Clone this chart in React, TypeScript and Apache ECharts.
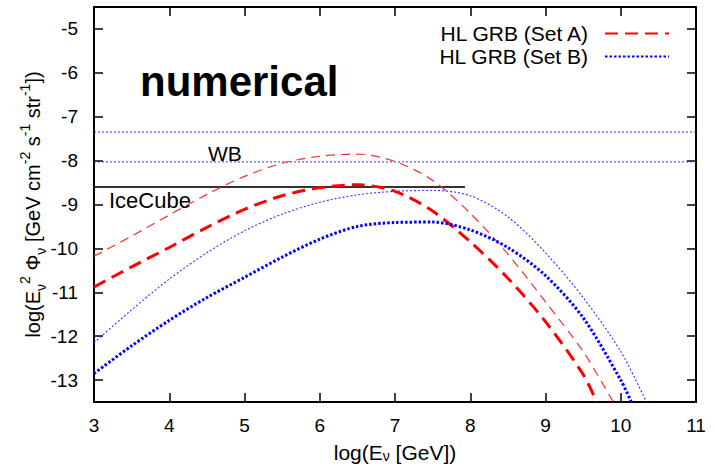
import React, { useEffect, useRef } from "react";
import * as echarts from "echarts";

// Set A, upper (thin dashed)
const setAUpperX = [3, 3.5, 4, 4.5, 5, 5.5, 6, 6.5, 7, 7.5, 8, 8.5, 9, 9.5, 9.9];
const setAUpperY = [-10.18, -9.72, -9.24, -8.77, -8.36, -8.06, -7.9, -7.85, -8.02, -8.45, -9.2, -10.13, -11.22, -12.35, -13.5];
// Set A, lower (thick dashed)
const setALowerX = [3, 3.5, 4, 4.5, 5, 5.5, 6, 6.5, 7, 7.5, 8, 8.5, 9, 9.5, 9.68];
const setALowerY = [-10.88, -10.42, -9.98, -9.52, -9.11, -8.8, -8.62, -8.55, -8.7, -9.15, -9.85, -10.68, -11.67, -12.87, -13.5];
// Set B, upper (thin dotted)
const setBUpperX = [3, 3.5, 4, 4.5, 5, 5.5, 6, 6.5, 7, 7.5, 8, 8.5, 9, 9.5, 10, 10.34];
const setBUpperY = [-12.15, -11.4, -10.7, -10.1, -9.6, -9.22, -8.95, -8.78, -8.7, -8.68, -8.8, -9.28, -10.1, -11.12, -12.35, -13.5];
// Set B, lower (thick dotted)
const setBLowerX = [3, 3.5, 4, 4.5, 5, 5.5, 6, 6.5, 7, 7.5, 8, 8.5, 9, 9.5, 10, 10.14];
const setBLowerY = [-12.85, -12.22, -11.64, -11.12, -10.66, -10.2, -9.79, -9.5, -9.41, -9.4, -9.58, -9.98, -10.62, -11.58, -13.0, -13.5];

// reference lines
const wbLevels = [-7.35, -8.03];
const iceCubeLevel = -8.6;
const iceCubeRange = [3, 7.93];

const xTicks = [3, 4, 5, 6, 7, 8, 9, 10, 11];
const yTicks = [-13, -12, -11, -10, -9, -8, -7, -6, -5];

const seriesNames = ["HL GRB (Set A)", "HL GRB (Set B)"];

const pairs = (xs: number[], ys: number[]) => xs.map((x, i) => [x, ys[i]]);

const FONT = "Liberation Sans, Arial, Helvetica, sans-serif";

export default function App() {
  const ref = useRef<HTMLDivElement>(null);
  useEffect(() => {
    if (!ref.current) return;
    const chart = echarts.init(ref.current, undefined, { renderer: "svg" });
    const axisLine = { show: true, lineStyle: { color: "#000", width: 2 } };
    const axisTick = { show: true, inside: true, length: 9, lineStyle: { color: "#000", width: 1.5 } };
    const option: any = {
      animation: false,
      backgroundColor: "#fff",
      textStyle: { fontFamily: FONT },
      grid: { left: 94, right: 19, top: 7, bottom: 63 },
      legend: {
        data: seriesNames,
        orient: "vertical",
        right: 40,
        top: 17,
        align: "right",
        itemWidth: 64,
        itemHeight: 10,
        itemGap: 0,
        itemStyle: { opacity: 0 },
        textStyle: { fontSize: 21, lineHeight: 23, color: "#000", fontFamily: FONT, padding: [0, 12, 0, 0] },
      },
      xAxis: [
        {
          type: "value",
          min: 3,
          max: 11,
          interval: 1,
          position: "bottom",
          axisLine,
          axisTick,
          splitLine: { show: false },
          axisLabel: { color: "#000", fontSize: 19, margin: 14, fontFamily: FONT },
          name: "log(E{sub|ν} [GeV])",
          nameLocation: "middle",
          nameMoveOverlap: false,
          nameGap: 40,
          nameTextStyle: {
            color: "#000",
            fontSize: 21,
            fontFamily: FONT,
            rich: {
              sub: { fontSize: 14, verticalAlign: "bottom", fontFamily: FONT, color: "#000" },
            },
          },
        },
        {
          type: "value",
          min: 3,
          max: 11,
          interval: 1,
          position: "top",
          axisLine,
          axisTick,
          splitLine: { show: false },
          axisLabel: { show: false },
        },
      ],
      yAxis: [
        {
          type: "value",
          min: -13.5,
          max: -4.5,
          position: "left",
          axisLine,
          axisTick: { ...axisTick, customValues: yTicks },
          splitLine: { show: false },
          axisLabel: { color: "#000", fontSize: 19, margin: 16, fontFamily: FONT, customValues: yTicks },
          name: "log(E{sub|ν}{sup|2} Φ{sub|ν} [GeV cm{sup|-2} s{sup|-1} str{sup|-1}])",
          nameLocation: "middle",
          nameRotate: 90,
          nameMoveOverlap: false,
          nameGap: 46,
          nameTextStyle: {
            color: "#000",
            fontSize: 20,
            fontFamily: FONT,
            lineHeight: 30,
            rich: {
              sub: { fontSize: 14, verticalAlign: "bottom", lineHeight: 30, fontFamily: FONT, color: "#000" },
              sup: { fontSize: 14, verticalAlign: "top", lineHeight: 30, fontFamily: FONT, color: "#000" },
            },
          },
        },
        {
          type: "value",
          min: -13.5,
          max: -4.5,
          position: "right",
          axisLine,
          axisTick: { ...axisTick, customValues: yTicks },
          splitLine: { show: false },
          axisLabel: { show: false, customValues: yTicks },
        },
      ],
      series: [
        ...wbLevels.map((v, i) => ({
          name: "WB" + i,
          type: "line",
          showSymbol: false,
          symbol: "none",
          data: [[xTicks[0], v], [xTicks[xTicks.length - 1], v]],
          lineStyle: { color: "#3030ff", width: 1, type: [2, 2] },
          silent: true,
        })),
        {
          name: "IceCube",
          type: "line",
          showSymbol: false,
          symbol: "none",
          data: iceCubeRange.map((x) => [x, iceCubeLevel]),
          lineStyle: { color: "#333", width: 2, type: "solid" },
        },
        {
          name: "Set A upper",
          type: "line",
          smooth: 0.3,
          showSymbol: false,
          symbol: "none",
          data: pairs(setAUpperX, setAUpperY),
          lineStyle: { color: "#ff3030", width: 1.2, type: [9, 6] },
        },
        {
          name: "Set B upper",
          type: "line",
          smooth: 0.3,
          showSymbol: false,
          symbol: "none",
          data: pairs(setBUpperX, setBUpperY),
          lineStyle: { color: "#3030ff", width: 1.1, type: [2, 2] },
        },
        {
          name: seriesNames[0],
          type: "line",
          smooth: 0.3,
          showSymbol: false,
          symbol: "none",
          data: pairs(setALowerX, setALowerY),
          itemStyle: { color: "#ff0000" },
          lineStyle: { color: "#ff0000", width: 3, type: [13, 7] },
        },
        {
          name: seriesNames[1],
          type: "line",
          smooth: 0.3,
          showSymbol: false,
          symbol: "none",
          data: pairs(setBLowerX, setBLowerY),
          itemStyle: { color: "#0000ff" },
          lineStyle: { color: "#0000ff", width: 3, type: [2.5, 2] },
        },
      ],
      graphic: [
        {
          type: "text",
          x: 140,
          y: 81,
          style: { text: "numerical", font: "bold 42px " + FONT, fill: "#000", verticalAlign: "middle" },
        },
        {
          type: "text",
          x: 208,
          y: 153,
          style: { text: "WB", font: "21px " + FONT, fill: "#000", verticalAlign: "middle" },
        },
        {
          type: "text",
          x: 109,
          y: 200,
          style: { text: "IceCube", font: "22px " + FONT, fill: "#000", verticalAlign: "middle" },
        },
      ],
    };
    chart.setOption(option);
    return () => chart.dispose();
  }, []);
  return (
    <div
      ref={ref}
      style={{ position: "fixed", left: 0, top: 0, width: 715, height: 468, background: "#fff" }}
    />
  );
}
